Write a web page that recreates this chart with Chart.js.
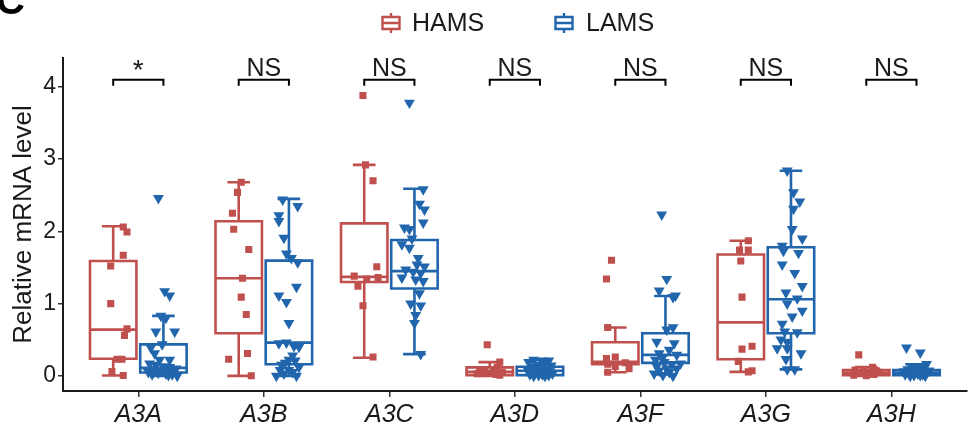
<!DOCTYPE html>
<html>
<head>
<meta charset="utf-8">
<script src="https://cdn.jsdelivr.net/npm/chart.js@4.4.1/dist/chart.umd.min.js"></script>
<style>
  html, body { margin: 0; padding: 0; background: #ffffff; }
  #wrap { width: 973px; height: 428px; position: relative; }
</style>
</head>
<body>
<div id="wrap"><canvas id="chart"></canvas></div>
<script>
// Genes on the x axis, groups, significance labels and y ticks
const genes = ['A3A', 'A3B', 'A3C', 'A3D', 'A3F', 'A3G', 'A3H'];
const groups = ['HAMS', 'LAMS'];
const sigLabels = ['*', 'NS', 'NS', 'NS', 'NS', 'NS', 'NS'];
const yTicks = [0, 1, 2, 3, 4];

// Box statistics per gene: lower whisker, Q1, median, Q3, upper whisker
const hamsLow  = [0.005, 0.00, 0.25, 0.00, 0.05, 0.055, 0.00];
const hamsQ1   = [0.236, 0.59, 1.30, 0.01, 0.16, 0.23, 0.01];
const hamsMed  = [0.64, 1.35, 1.37, 0.055, 0.195, 0.74, 0.045];
const hamsQ3   = [1.59, 2.14, 2.11, 0.117, 0.465, 1.68, 0.08];
const hamsHigh = [2.07, 2.68, 2.92, 0.19, 0.67, 1.87, 0.12];

const lamsLow  = [0.00, 0.00, 0.30, 0.00, 0.02, 0.09, 0.00];
const lamsQ1   = [0.047, 0.16, 1.21, 0.01, 0.18, 0.59, 0.01];
const lamsMed  = [0.11, 0.46, 1.45, 0.07, 0.29, 1.06, 0.045];
const lamsQ3   = [0.435, 1.595, 1.88, 0.125, 0.59, 1.78, 0.08];
const lamsHigh = [0.83, 2.45, 2.59, 0.22, 1.105, 2.84, 0.16];

// Individual samples (relative mRNA level), one list per gene
const hamsPoints = [
  [2.06, 1.99, 1.67, 1.52, 1.00, 0.65, 0.56, 0.23, 0.23, 0.06, 0.005],
  [2.68, 2.54, 2.25, 2.03, 1.75, 1.35, 1.09, 0.85, 0.31, 0.23, 0.00],
  [3.88, 2.92, 2.70, 1.51, 1.38, 1.36, 1.34, 1.24, 0.97, 0.26],
  [0.43, 0.19, 0.12, 0.08, 0.07, 0.06, 0.05, 0.04, 0.03, 0.02, 0.01],
  [1.60, 1.34, 0.67, 0.26, 0.24, 0.18, 0.16, 0.13, 0.10, 0.05],
  [1.87, 1.74, 1.74, 1.59, 1.09, 0.41, 0.37, 0.20, 0.07, 0.055],
  [0.29, 0.12, 0.08, 0.07, 0.06, 0.05, 0.04, 0.03, 0.02, 0.01, 0.00]
];
const lamsPoints = [
  [2.46, 1.17, 1.11, 0.83, 0.80, 0.61, 0.61, 0.435, 0.39, 0.31, 0.22, 0.22, 0.17, 0.15, 0.13, 0.12, 0.10, 0.09, 0.08, 0.07, 0.06, 0.05, 0.04, 0.03, 0.02, 0.02, 0.01, 0.00],
  [2.44, 2.35, 2.22, 2.14, 1.91, 1.69, 1.63, 1.57, 1.23, 1.11, 1.02, 0.73, 0.46, 0.45, 0.41, 0.40, 0.28, 0.22, 0.21, 0.18, 0.15, 0.12, 0.08, 0.08, 0.05, 0.03, 0.00, 0.00],
  [3.78, 2.58, 2.38, 2.30, 2.12, 2.05, 2.03, 1.90, 1.82, 1.77, 1.63, 1.54, 1.51, 1.47, 1.44, 1.42, 1.36, 1.33, 1.31, 1.14, 1.00, 0.97, 0.84, 0.73, 0.30],
  [0.22, 0.21, 0.21, 0.19, 0.17, 0.15, 0.14, 0.12, 0.11, 0.10, 0.09, 0.08, 0.07, 0.06, 0.05, 0.05, 0.04, 0.03, 0.03, 0.02, 0.02, 0.01, 0.01, 0.00, 0.00],
  [2.23, 1.34, 1.18, 1.11, 1.09, 0.67, 0.64, 0.47, 0.45, 0.36, 0.31, 0.29, 0.26, 0.22, 0.19, 0.17, 0.16, 0.13, 0.10, 0.10, 0.07, 0.05, 0.03, 0.01, 0.00],
  [2.84, 2.54, 2.41, 2.31, 2.03, 1.90, 1.80, 1.73, 1.70, 1.54, 1.42, 1.24, 1.15, 1.07, 1.00, 0.90, 0.82, 0.72, 0.61, 0.60, 0.50, 0.47, 0.38, 0.38, 0.31, 0.23, 0.09, 0.09],
  [0.39, 0.32, 0.16, 0.13, 0.12, 0.10, 0.09, 0.08, 0.07, 0.06, 0.05, 0.05, 0.04, 0.03, 0.03, 0.02, 0.02, 0.01, 0.01, 0.00, 0.00]
];

// Horizontal jitter of each sample around its box centre (x-axis units)
const hamsJitter = [
  [0.08, 0.11, 0.08, -0.02, -0.02, 0.11, 0.09, 0.03, 0.07, -0.01, 0.08],
  [0.02, -0.01, -0.05, -0.04, 0.08, 0.03, 0.02, 0.06, 0.07, -0.08, 0.10],
  [-0.01, 0.01, 0.07, 0.10, -0.08, 0.11, 0.02, -0.05, -0.01, 0.07],
  [-0.02, 0.08, 0.06, -0.08, 0.03, -0.04, 0.10, 0.00, -0.10, 0.05, 0.08],
  [-0.03, -0.07, -0.06, 0.00, -0.07, 0.08, -0.06, 0.00, 0.11, -0.06],
  [0.06, -0.01, 0.06, 0.00, 0.01, 0.09, 0.01, -0.02, 0.09, 0.06],
  [-0.06, 0.05, -0.09, 0.08, -0.02, 0.10, -0.06, 0.02, 0.06, -0.10, 0.00]
];
const lamsJitter = [
  [-0.04, 0.01, 0.05, -0.02, 0.02, -0.06, 0.09, -0.01, -0.10, -0.07, 0.05, -0.03, -0.11, -0.06, 0.00, 0.05, 0.10, -0.08, -0.02, 0.03, 0.08, -0.12, -0.04, 0.02, 0.07, -0.09, 0.04, 0.11],
  [-0.05, 0.07, -0.08, -0.08, -0.04, -0.02, 0.02, 0.07, 0.06, -0.08, -0.02, 0.00, -0.02, -0.08, 0.04, 0.08, 0.03, 0.00, 0.05, -0.03, -0.06, 0.08, 0.00, -0.07, 0.03, -0.04, -0.10, 0.06],
  [-0.04, 0.07, 0.04, 0.08, 0.07, -0.08, -0.04, -0.02, -0.10, -0.04, 0.03, 0.02, 0.08, -0.07, -0.01, 0.05, -0.10, 0.01, 0.07, 0.04, -0.03, 0.05, 0.01, 0.00, 0.05],
  [-0.05, 0.02, 0.07, -0.09, 0.04, -0.02, 0.09, -0.06, 0.01, 0.06, -0.10, -0.03, 0.03, 0.08, -0.07, 0.00, 0.05, -0.04, 0.10, -0.08, 0.02, 0.07, -0.01, -0.05, 0.04],
  [-0.03, 0.01, -0.05, 0.08, 0.06, 0.06, 0.01, -0.07, 0.07, 0.03, -0.05, 0.09, -0.02, -0.08, -0.01, 0.12, 0.05, -0.07, 0.01, 0.09, -0.05, 0.03, -0.09, -0.02, 0.06],
  [-0.03, 0.02, 0.07, 0.02, 0.01, 0.09, -0.07, -0.06, 0.06, -0.07, 0.03, 0.09, -0.04, 0.05, -0.03, 0.09, 0.01, -0.07, -0.05, 0.05, -0.08, -0.03, -0.11, -0.03, 0.08, -0.04, -0.03, 0.03],
  [-0.08, 0.03, 0.08, -0.04, 0.02, 0.06, -0.07, 0.00, 0.10, -0.10, 0.04, -0.03, 0.08, -0.06, 0.01, 0.05, -0.09, 0.03, -0.02, 0.07, -0.05]
];

const RED = '#C0504D';
const BLUE = '#2166AC';
const INK = '#1a1a1a';
const FONT = "'Liberation Sans', Arial, Helvetica, sans-serif";
const DODGE = 0.2;      // offset of each group from the gene position
const BOX_HALF = 0.185; // half box width
const CAP_HALF = 0.09;  // half whisker-cap width

function buildPoints(values, jitter, shift) {
  const out = [];
  values.forEach((list, g) => {
    list.forEach((v, k) => out.push({ x: g + 1 + shift + jitter[g][k], y: v }));
  });
  return out;
}

const boxSets = [
  { color: RED,  shift: -DODGE, low: hamsLow, q1: hamsQ1, med: hamsMed, q3: hamsQ3, high: hamsHigh },
  { color: BLUE, shift:  DODGE, low: lamsLow, q1: lamsQ1, med: lamsMed, q3: lamsQ3, high: lamsHigh }
];

// Draws boxes and whiskers beneath the sample points
const boxPlugin = {
  id: 'boxes',
  beforeDatasetsDraw(chart) {
    const { ctx, scales: { x, y } } = chart;
    ctx.save();
    ctx.lineWidth = 2.6;
    ctx.lineCap = 'butt';
    boxSets.forEach(set => {
      ctx.strokeStyle = set.color;
      genes.forEach((g, i) => {
        const c = i + 1 + set.shift;
        const xl = x.getPixelForValue(c - BOX_HALF);
        const xr = x.getPixelForValue(c + BOX_HALF);
        const xc = x.getPixelForValue(c);
        const cl = x.getPixelForValue(c - CAP_HALF);
        const cr = x.getPixelForValue(c + CAP_HALF);
        const yLow = y.getPixelForValue(set.low[i]);
        const yQ1 = y.getPixelForValue(set.q1[i]);
        const yMed = y.getPixelForValue(set.med[i]);
        const yQ3 = y.getPixelForValue(set.q3[i]);
        const yHigh = y.getPixelForValue(set.high[i]);
        ctx.beginPath();
        // whiskers
        ctx.moveTo(xc, yQ3); ctx.lineTo(xc, yHigh);
        ctx.moveTo(xc, yQ1); ctx.lineTo(xc, yLow);
        // caps
        ctx.moveTo(cl, yHigh); ctx.lineTo(cr, yHigh);
        ctx.moveTo(cl, yLow); ctx.lineTo(cr, yLow);
        ctx.stroke();
        ctx.fillStyle = '#ffffff';
        ctx.beginPath();
        ctx.rect(xl, yQ3, xr - xl, yQ1 - yQ3);
        ctx.fill();
        ctx.stroke();
        ctx.beginPath();
        ctx.moveTo(xl, yMed); ctx.lineTo(xr, yMed);
        ctx.stroke();
      });
    });
    ctx.restore();
  },
  afterDraw(chart) {
    const { ctx, scales: { x, y } } = chart;
    ctx.save();
    // significance brackets
    ctx.strokeStyle = '#000000';
    ctx.fillStyle = INK;
    ctx.lineWidth = 2;
    ctx.textAlign = 'center';
    ctx.textBaseline = 'alphabetic';
    const yb = y.getPixelForValue(4.10);
    genes.forEach((g, i) => {
      const xl = x.getPixelForValue(i + 1 - DODGE);
      const xr = x.getPixelForValue(i + 1 + DODGE);
      ctx.beginPath();
      ctx.moveTo(xl, yb + 6); ctx.lineTo(xl, yb); ctx.lineTo(xr, yb); ctx.lineTo(xr, yb + 6);
      ctx.stroke();
      const isStar = sigLabels[i] === '*';
      ctx.font = `${isStar ? 28 : 25}px ${FONT}`;
      ctx.fillText(sigLabels[i], (xl + xr) / 2, isStar ? yb - 1 : yb - 4);
    });

    // legend
    const keys = [
      { label: groups[0], color: RED, kx: 391, tx: 412 },
      { label: groups[1], color: BLUE, kx: 564, tx: 586 }
    ];
    const ky = 23;
    ctx.lineWidth = 2.4;
    ctx.font = `25px ${FONT}`;
    ctx.textAlign = 'left';
    ctx.textBaseline = 'middle';
    keys.forEach(k => {
      ctx.strokeStyle = k.color;
      ctx.beginPath();
      ctx.moveTo(k.kx, ky - 10); ctx.lineTo(k.kx, ky - 6);
      ctx.moveTo(k.kx, ky + 6); ctx.lineTo(k.kx, ky + 10);
      ctx.stroke();
      ctx.beginPath();
      ctx.rect(k.kx - 8.5, ky - 6, 17, 12);
      ctx.moveTo(k.kx - 8.5, ky); ctx.lineTo(k.kx + 8.5, ky);
      ctx.stroke();
      ctx.fillStyle = INK;
      ctx.fillText(k.label, k.tx, ky + 1);
    });

    // panel letter
    ctx.font = `bold 40px ${FONT}`;
    ctx.textBaseline = 'alphabetic';
    ctx.fillStyle = '#000000';
    ctx.fillText('C', -4, 14);
    ctx.restore();
  }
};

new Chart(document.getElementById('chart'), {
  type: 'scatter',
  data: {
    datasets: [
      {
        label: groups[0],
        data: buildPoints(hamsPoints, hamsJitter, -DODGE),
        pointStyle: 'rect',
        pointRadius: 5,
        pointHoverRadius: 5,
        pointBorderWidth: 0,
        backgroundColor: RED,
        borderColor: RED
      },
      {
        label: groups[1],
        data: buildPoints(lamsPoints, lamsJitter, DODGE),
        pointStyle: 'triangle',
        rotation: 180,
        pointRadius: 6.3,
        pointHoverRadius: 6.3,
        pointBorderWidth: 0,
        backgroundColor: BLUE,
        borderColor: BLUE
      }
    ]
  },
  options: {
    responsive: true,
    maintainAspectRatio: false,
    animation: false,
    devicePixelRatio: 1,
    layout: { padding: { top: 58, right: 1, left: 0, bottom: 0 } },
    plugins: { legend: { display: false }, tooltip: { enabled: false } },
    scales: {
      x: {
        type: 'linear',
        min: 0.4,
        max: 7.6,
        afterBuildTicks: s => { s.ticks = genes.map((g, i) => ({ value: i + 1 })); },
        afterFit: s => { s.height = 37; },
        ticks: {
          callback: v => genes[Math.round(v) - 1],
          autoSkip: false,
          maxRotation: 0,
          padding: 3,
          color: INK,
          font: { family: FONT, size: 25, style: 'italic' }
        },
        grid: { display: true, drawOnChartArea: false, drawTicks: true, tickLength: 6, color: '#333333', lineWidth: 1.5 },
        border: { display: true, color: INK, width: 2 }
      },
      y: {
        type: 'linear',
        min: -0.21,
        max: 4.4,
        afterBuildTicks: s => { s.ticks = yTicks.map(v => ({ value: v })); },
        afterFit: s => { s.width = 63; },
        ticks: {
          padding: 2,
          color: INK,
          font: { family: FONT, size: 23 }
        },
        title: {
          display: true,
          text: 'Relative mRNA level',
          color: INK,
          font: { family: FONT, size: 26 },
          padding: { top: 8, bottom: 0 }
        },
        grid: { display: true, drawOnChartArea: false, drawTicks: true, tickLength: 5, color: '#333333', lineWidth: 1.5 },
        border: { display: true, color: INK, width: 2 }
      }
    }
  },
  plugins: [boxPlugin]
});
</script>
</body>
</html>
